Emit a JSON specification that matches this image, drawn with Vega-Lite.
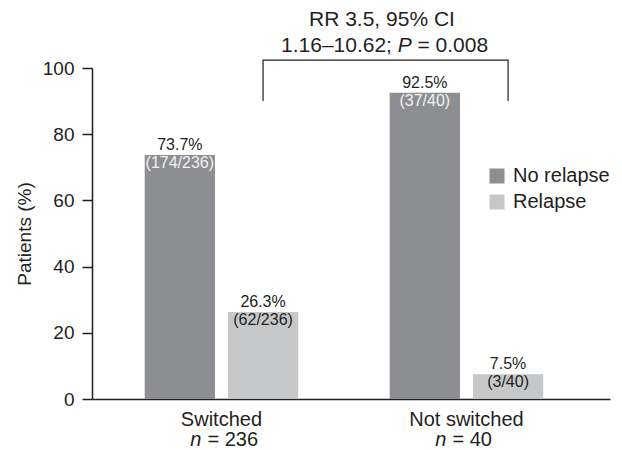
{
  "$schema": "https://vega.github.io/schema/vega-lite/v6.json",
  "autosize": {"type": "none"},
  "width": 518,
  "height": 331,
  "padding": {"left": 92, "top": 68, "right": 12, "bottom": 51},
  "background": "white",
  "config": {
    "view": {"stroke": null},
    "font": "Liberation Sans",
    "text": {"font": "Liberation Sans", "color": "#231f20"}
  },
  "datasets": {
    "bars": [
      {"group": "Switched", "category": "No relapse", "pct": 73.7, "label": "73.7%", "frac": "(174/236)"},
      {"group": "Switched", "category": "Relapse", "pct": 26.3, "label": "26.3%", "frac": "(62/236)"},
      {"group": "Not switched", "category": "No relapse", "pct": 92.5, "label": "92.5%", "frac": "(37/40)"},
      {"group": "Not switched", "category": "Relapse", "pct": 7.5, "label": "7.5%", "frac": "(3/40)"}
    ],
    "groups": [
      {"group": "Switched", "n": "= 236"},
      {"group": "Not switched", "n": "= 40"}
    ],
    "bracket": [
      {"group": "Switched", "category": "Relapse", "value": 90, "order": 1},
      {"group": "Switched", "category": "Relapse", "value": 102.4, "order": 2},
      {"group": "Not switched", "category": "Relapse", "value": 102.4, "order": 3},
      {"group": "Not switched", "category": "Relapse", "value": 90, "order": 4}
    ],
    "note": [
      {"line1": "RR 3.5, 95% CI", "a": "1.16–10.62;", "p": "P", "b": "= 0.008"}
    ]
  },
  "layer": [
    {
      "data": {"name": "bars"},
      "mark": {"type": "bar"},
      "encoding": {
        "x": {"field": "group", "type": "nominal", "sort": ["Switched", "Not switched"],
              "scale": {"paddingInner": 0.3735, "paddingOuter": 0.2439, "align": 0.441},
              "axis": {"title": null, "labels": false, "ticks": false, "domainColor": "#231f20", "domainWidth": 1.5}},
        "xOffset": {"field": "category", "type": "nominal", "sort": ["No relapse", "Relapse"],
                    "scale": {"paddingInner": 0.156, "paddingOuter": 0}},
        "y": {"field": "pct", "type": "quantitative",
              "scale": {"domain": [0, 100], "nice": false},
              "axis": {"title": "Patients (%)", "values": [0, 20, 40, 60, 80, 100], "grid": false,
                       "titleFont": "Liberation Sans", "titleFontSize": 19, "titleFontWeight": "normal", "titleColor": "#231f20",
                       "titlePadding": 8,
                       "labelFont": "Liberation Sans", "labelFontSize": 19, "labelColor": "#231f20", "labelPadding": 8,
                       "tickSize": 10, "tickWidth": 1.5, "tickColor": "#231f20",
                       "domainColor": "#231f20", "domainWidth": 1.5}},
        "color": {"field": "category", "type": "nominal",
                  "scale": {"domain": ["No relapse", "Relapse"], "range": ["#8d8e91", "#c6c7c9"]},
                  "legend": {"orient": "none", "legendX": 395, "legendY": 98, "title": null,
                             "symbolType": "square", "symbolSize": 225, "symbolStrokeWidth": 0,
                             "labelFont": "Liberation Sans", "labelFontSize": 20, "labelColor": "#231f20",
                             "labelOffset": 6, "rowPadding": 6}}
      }
    },
    {
      "data": {"name": "bars"},
      "mark": {"type": "text", "fontSize": 16, "baseline": "alphabetic", "dy": -5},
      "encoding": {
        "x": {"field": "group", "type": "nominal", "sort": ["Switched", "Not switched"]},
        "xOffset": {"field": "category", "type": "nominal", "sort": ["No relapse", "Relapse"]},
        "y": {"field": "pct", "type": "quantitative"},
        "text": {"field": "label"}
      }
    },
    {
      "data": {"name": "bars"},
      "mark": {"type": "text", "fontSize": 16, "baseline": "alphabetic", "dy": 13},
      "encoding": {
        "x": {"field": "group", "type": "nominal", "sort": ["Switched", "Not switched"]},
        "xOffset": {"field": "category", "type": "nominal", "sort": ["No relapse", "Relapse"]},
        "y": {"field": "pct", "type": "quantitative"},
        "text": {"field": "frac"},
        "color": {"condition": {"test": "datum.category === 'No relapse'", "value": "#f2f2f2"}, "value": "#231f20"}
      }
    },
    {
      "data": {"name": "groups"},
      "mark": {"type": "text", "fontSize": 20, "baseline": "alphabetic", "dy": 27},
      "encoding": {
        "x": {"field": "group", "type": "nominal", "sort": ["Switched", "Not switched"]},
        "y": {"datum": 0, "type": "quantitative"},
        "text": {"field": "group"}
      }
    },
    {
      "data": {"name": "groups"},
      "mark": {"type": "text", "fontSize": 20, "baseline": "alphabetic", "dy": 47, "dx": -20, "align": "right", "fontStyle": "italic"},
      "encoding": {
        "x": {"field": "group", "type": "nominal", "sort": ["Switched", "Not switched"]},
        "y": {"datum": 0, "type": "quantitative"},
        "text": {"value": "n"}
      }
    },
    {
      "data": {"name": "groups"},
      "mark": {"type": "text", "fontSize": 20, "baseline": "alphabetic", "dy": 47, "dx": -14, "align": "left"},
      "encoding": {
        "x": {"field": "group", "type": "nominal", "sort": ["Switched", "Not switched"]},
        "y": {"datum": 0, "type": "quantitative"},
        "text": {"field": "n"}
      }
    },
    {
      "data": {"name": "bracket"},
      "mark": {"type": "line", "color": "#231f20", "strokeWidth": 1.2},
      "encoding": {
        "x": {"field": "group", "type": "nominal", "sort": ["Switched", "Not switched"]},
        "xOffset": {"field": "category", "type": "nominal", "sort": ["No relapse", "Relapse"]},
        "y": {"field": "value", "type": "quantitative"},
        "order": {"field": "order", "type": "quantitative"}
      }
    },
    {
      "data": {"name": "note"},
      "mark": {"type": "text", "fontSize": 21, "baseline": "alphabetic", "align": "center", "dx": -84.5},
      "encoding": {
        "x": {"datum": "Not switched", "type": "nominal"},
        "y": {"datum": 112.7, "type": "quantitative"},
        "text": {"field": "line1"}
      }
    },
    {
      "data": {"name": "note"},
      "mark": {"type": "text", "fontSize": 21, "baseline": "alphabetic", "align": "right", "dx": -74.5},
      "encoding": {
        "x": {"datum": "Not switched", "type": "nominal"},
        "y": {"datum": 104.8, "type": "quantitative"},
        "text": {"field": "a"}
      }
    },
    {
      "data": {"name": "note"},
      "mark": {"type": "text", "fontSize": 21, "baseline": "alphabetic", "align": "left", "dx": -68.8, "fontStyle": "italic"},
      "encoding": {
        "x": {"datum": "Not switched", "type": "nominal"},
        "y": {"datum": 104.8, "type": "quantitative"},
        "text": {"field": "p"}
      }
    },
    {
      "data": {"name": "note"},
      "mark": {"type": "text", "fontSize": 21, "baseline": "alphabetic", "align": "left", "dx": -49},
      "encoding": {
        "x": {"datum": "Not switched", "type": "nominal"},
        "y": {"datum": 104.8, "type": "quantitative"},
        "text": {"field": "b"}
      }
    }
  ]
}
